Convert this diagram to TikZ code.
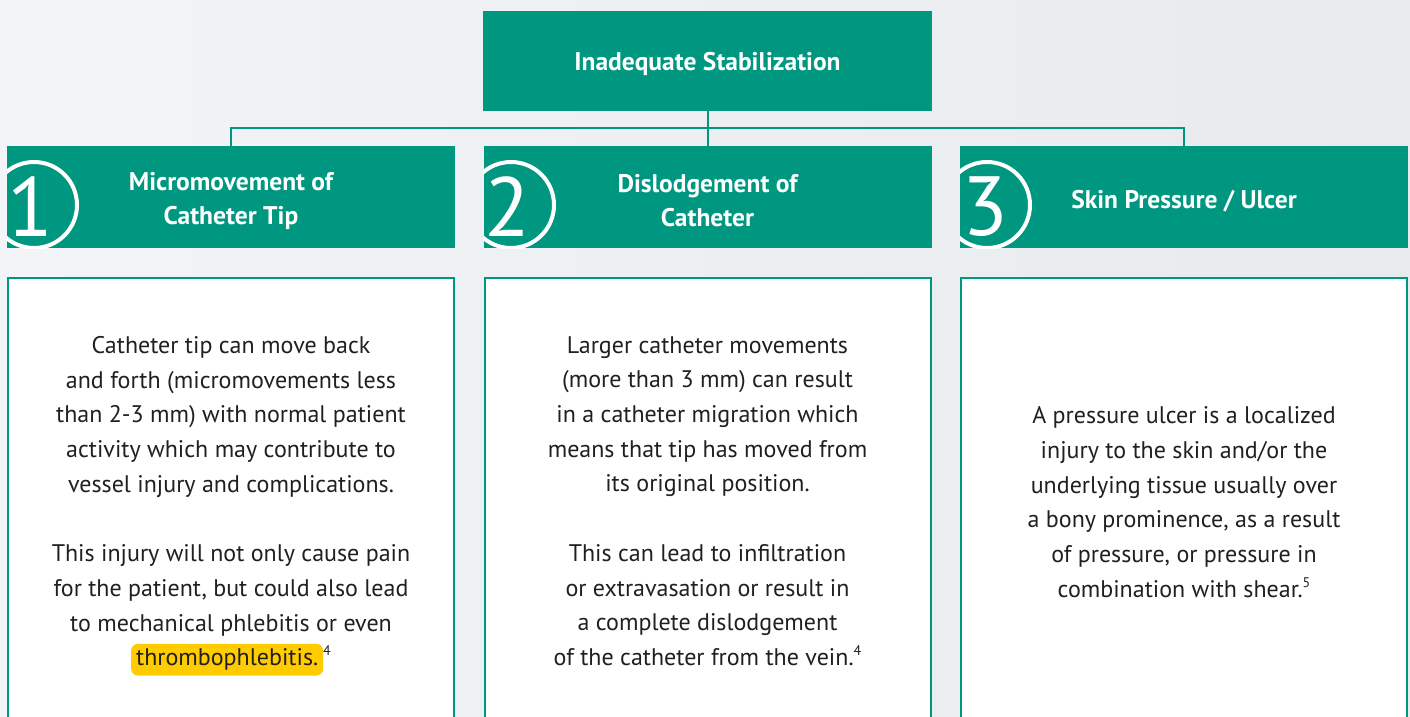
\documentclass[tikz,border=0pt]{standalone}
\usepackage{fontspec}
\setmainfont{PT Sans}
\usepackage{xcolor}
\usetikzlibrary{positioning}
\definecolor{tg}{RGB}{0, 151, 128}
\definecolor{hy}{RGB}{255, 204, 0}
\definecolor{tx}{RGB}{35, 31, 32}
\definecolor{bgl}{RGB}{242, 244, 247}
\definecolor{bgr}{RGB}{231, 235, 238}
\newcommand{\hlword}[1]{\tikz[baseline=(w.base)]\node[fill=hy, rounded corners=7pt, inner xsep=5pt, inner ysep=5pt] (w) {#1};}
\newcommand{\fnref}[1]{\raisebox{0.42em}{\fontsize{14}{14}\selectfont #1}}

\begin{document}
\begin{tikzpicture}[x=1pt, y=-1pt,
        head/.style={fill=tg, minimum width=448pt, minimum height=102pt, inner sep=0pt},
        headtxt/.style={text=white, align=center, font=\fontsize{25.5}{34}\selectfont\bfseries},
        body/.style={draw=tg, line width=2pt, fill=white, minimum width=446pt, minimum height=446pt},
        txt/.style={text=tx, align=center, font=\fontsize{24}{34.7}\selectfont},
        num/.style={text=white, font=\fontsize{84}{84}\selectfont},
        link/.style={draw=tg, line width=2pt}]
        \shade[left color=bgl, right color=bgr] (0,0) rectangle (1410,717);
        \clip (0,0) rectangle (1410,717);

        \node[head, minimum width=449pt, minimum height=100pt] (top) at (707.5,61) {};
        \node[head] (h1) at (231,197) {};
        \node[head] (h2) at (707.5,197) {};
        \node[head] (h3) at (1184,197) {};
        \node[headtxt] (l0) at (707.5,64) {Inadequate Stabilization};
        \node[headtxt] (l1) at (231,201) {Micromovement of\\Catheter Tip};
        \node[headtxt] (l2) at (707.5,201) {Dislodgement of\\Catheter};
        \node[headtxt] (l3) at (1184,201) {Skin Pressure / Ulcer};
        \coordinate (bar) at (707.5,128);
        \draw[link] (top.south) -- (h2.north);
        \draw[link] (h1.north) |- (bar) -| (h3.north);

        % numbers
        \begin{scope}
            \clip (h1.south west) rectangle (h1.north east);
            \draw[white, line width=4pt] (34,205) circle[radius=43pt];
        \end{scope}
        \begin{scope}
            \clip (h2.south west) rectangle (h2.north east);
            \draw[white, line width=4pt] (511,205) circle[radius=43pt];
        \end{scope}
        \begin{scope}
            \clip (h3.south west) rectangle (h3.north east);
            \draw[white, line width=4pt] (987,205) circle[radius=43pt];
        \end{scope}
        \node[num] (n1) at (30,207) {1};
        \node[num] (n2) at (507,207) {2};
        \node[num] (n3) at (985,207) {3};

        \node[body] (b1) at (231,501) {};
        \node[body] (b2) at (707.5,501) {};
        \node[body] (b3) at (1184,501) {};

        \node[txt] (t1) at (231,506) {Catheter tip can move back\\
            and forth (micromovements less\\
            than 2-3 mm) with normal patient\\
            activity which may contribute to\\
            vessel injury and complications.\\[34.7pt]
            This injury will not only cause pain\\
            for the patient, but could also lead\\
            to mechanical phlebitis or even\\
            \hlword{thrombophlebitis.}\fnref{4}};
        \node[txt] (t2) at (707.5,501) {Larger catheter movements\\
            (more than 3 mm) can result\\
            in a catheter migration which\\
            means that tip has moved from\\
            its original position.\\[34.7pt]
            This can lead to infiltration\\
            or extravasation or result in\\
            a complete dislodgement\\
            of the catheter from the vein.\fnref{4}};
        \node[txt] (t3) at (1184,502) {A pressure ulcer is a localized\\
            injury to the skin and/or the\\
            underlying tissue usually over\\
            a bony prominence, as a result\\
            of pressure, or pressure in\\
            combination with shear.\fnref{5}};
    \end{tikzpicture}
\end{document}
